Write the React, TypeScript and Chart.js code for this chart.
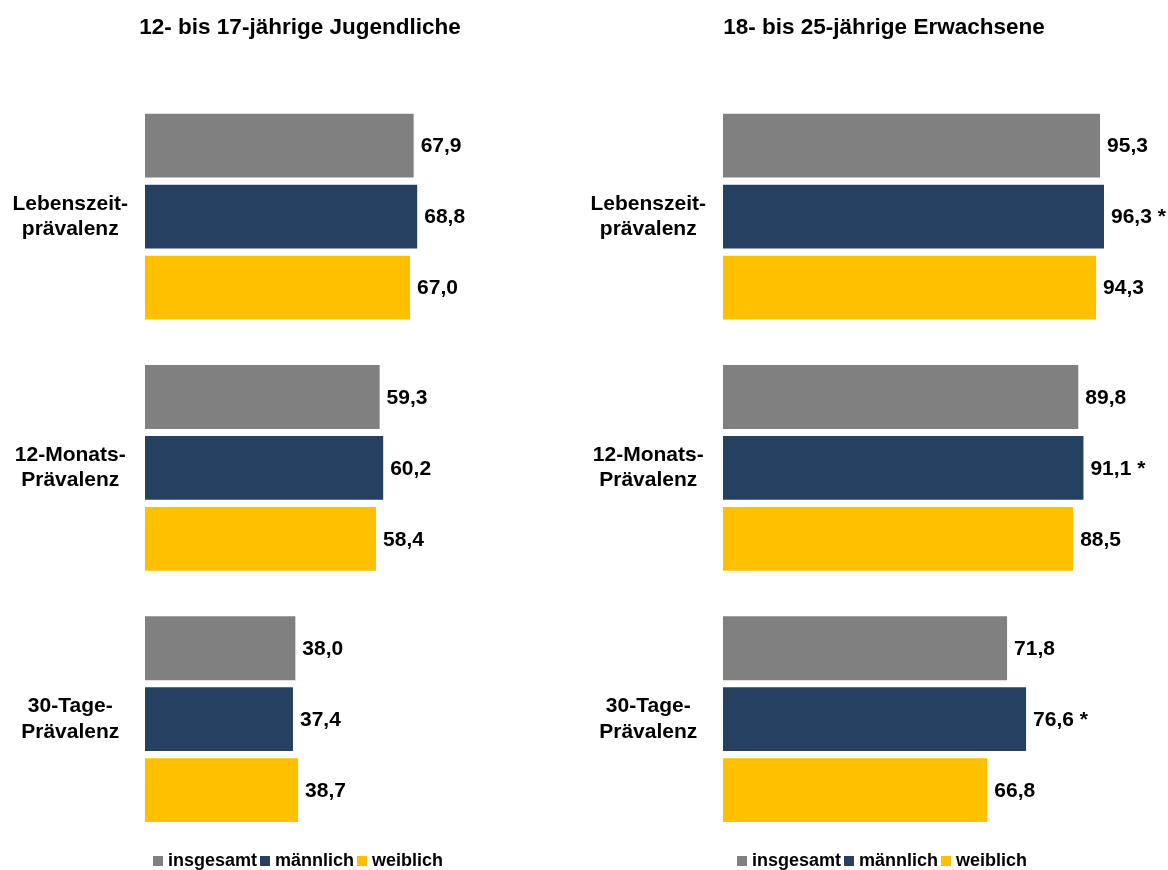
import React, { useEffect, useRef } from "react";
import { Chart, registerables } from "chart.js";

Chart.register(...registerables);

const FONT = "'Liberation Sans', Arial, Helvetica, sans-serif";

const categories: string[][] = [
  ["Lebenszeit-", "prävalenz"],
  ["12-Monats-", "Prävalenz"],
  ["30-Tage-", "Prävalenz"],
];
const seriesNames = ["insgesamt", "männlich", "weiblich"];
const seriesColors = ["#808080", "#264061", "#FFC000"];

const youthTitle = "12- bis 17-jährige Jugendliche";
const youthTotal = [67.9, 59.3, 38.0];
const youthMale = [68.8, 60.2, 37.4];
const youthFemale = [67.0, 58.4, 38.7];
const youthMaleSig = [false, false, false];

const adultTitle = "18- bis 25-jährige Erwachsene";
const adultTotal = [95.3, 89.8, 71.8];
const adultMale = [96.3, 91.1, 76.6];
const adultFemale = [94.3, 88.5, 66.8];
const adultMaleSig = [true, true, true];

const axisMax = 115;
const CANVAS_H = 887;

type PanelProps = {
  title: string;
  series: number[][];
  sig: boolean[][];
  left: number;
  width: number;
  yWidth: number;
};

const fmt = (v: number) => v.toFixed(1).replace(".", ",");

function makeSquare(color: string, size: number): HTMLCanvasElement {
  const c = document.createElement("canvas");
  c.width = size;
  c.height = size;
  const g = c.getContext("2d");
  if (g) {
    g.fillStyle = color;
    g.fillRect(0, 0, size, size);
  }
  return c;
}

function Panel({ title, series, sig, left, width, yWidth }: PanelProps) {
  const ref = useRef<HTMLCanvasElement | null>(null);
  useEffect(() => {
    if (!ref.current) return;
    const valueLabels = {
      id: "valueLabels",
      afterDatasetsDraw(chart: any) {
        const ctx = chart.ctx;
        ctx.save();
        ctx.font = `bold 21px ${FONT}`;
        ctx.fillStyle = "#000";
        ctx.textAlign = "left";
        ctx.textBaseline = "middle";
        chart.data.datasets.forEach((ds: any, di: number) => {
          const meta = chart.getDatasetMeta(di);
          meta.data.forEach((bar: any, i: number) => {
            const v = ds.data[i] as number;
            const star = sig[di] && sig[di][i] ? " *" : "";
            ctx.fillText(fmt(v) + star, bar.x + 7, bar.y + 1);
          });
        });
        ctx.restore();
      },
    };
    const chart = new Chart(ref.current, {
      type: "bar",
      data: {
        labels: categories as any,
        datasets: series.map((d, i) => ({
          label: seriesNames[i],
          data: d,
          backgroundColor: seriesColors[i],
          borderWidth: 0,
          pointStyle: makeSquare(seriesColors[i], 10),
          categoryPercentage: 0.847,
          barPercentage: 0.9,
        })),
      },
      options: {
        indexAxis: "y",
        animation: false,
        responsive: false,
        maintainAspectRatio: false,
        layout: { padding: 0 },
        scales: {
          x: {
            min: 0,
            max: axisMax,
            display: false,
          },
          y: {
            type: "category",
            grid: { display: false, drawTicks: false },
            border: { display: false },
            ticks: {
              crossAlign: "center",
              padding: 17,
              color: "#000",
              font: { family: FONT, size: 21, weight: "bold", lineHeight: 1.2 },
            },
            afterFit(scale: any) {
              scale.width = yWidth;
            },
          },
        },
        plugins: {
          title: {
            display: true,
            text: title,
            color: "#000",
            font: { family: FONT, size: 22.5, weight: "bold", lineHeight: 1.2 },
            padding: { top: 14, bottom: 50 },
          },
          legend: {
            display: true,
            position: "bottom",
            labels: {
              usePointStyle: true,
              boxHeight: 10,
              pointStyleWidth: 2,
              padding: 7,
              color: "#000",
              font: { family: FONT, size: 18, weight: "bold" },
            },
          },
          tooltip: { enabled: false },
        },
      },
      plugins: [valueLabels],
    } as any);
    return () => chart.destroy();
  }, []);
  return (
    <canvas
      ref={ref}
      width={width}
      height={CANVAS_H}
      style={{ position: "absolute", left, top: 0, width, height: CANVAS_H }}
    />
  );
}

export default function App() {
  return (
    <div
      style={{
        position: "fixed",
        left: 0,
        top: 0,
        width: 1168,
        height: 870,
        overflow: "hidden",
        background: "#fff",
      }}
    >
      <Panel
        title={youthTitle}
        series={[youthTotal, youthMale, youthFemale]}
        sig={[[false, false, false], youthMaleSig, [false, false, false]]}
        left={0}
        width={600}
        yWidth={145}
      />
      <Panel
        title={adultTitle}
        series={[adultTotal, adultMale, adultFemale]}
        sig={[[false, false, false], adultMaleSig, [false, false, false]]}
        left={590}
        width={588}
        yWidth={133}
      />
    </div>
  );
}
